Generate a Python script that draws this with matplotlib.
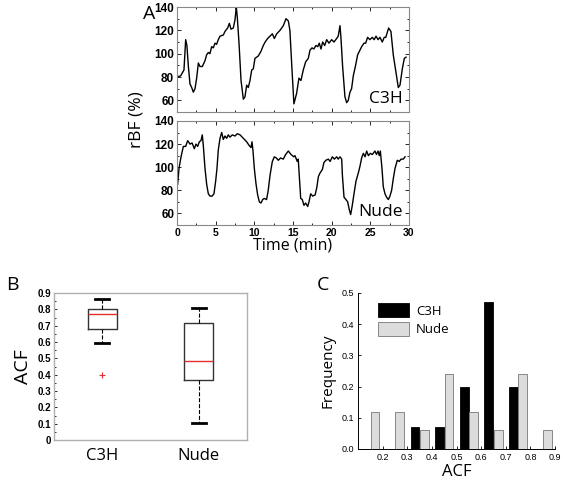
import matplotlib
matplotlib.use("Agg")
import matplotlib.pyplot as plt
from matplotlib.ticker import MultipleLocator

plt.rcParams['font.family'] = ['Liberation Sans', 'DejaVu Sans']

# -----------------------------------------------------------------------------
# Data
# -----------------------------------------------------------------------------
# Panel A, C3H rBF trace
c3h_t = [0.0, 0.47, 0.9, 1.12, 1.28, 1.47, 1.68, 1.9, 2.11, 2.33, 2.54, 2.76,
         2.97, 3.27, 3.62, 3.83, 4.05, 4.26, 4.48, 4.7, 4.91, 5.12, 5.34, 5.56,
         5.99, 6.2, 6.55, 6.77, 6.98, 7.28, 7.5, 7.67, 7.8, 8.02, 8.28, 8.58,
         8.79, 9.01, 9.22, 9.44, 9.66, 9.87, 10.08, 10.3, 10.51, 10.86, 11.16,
         11.4, 11.72, 12.02, 12.33, 12.59, 12.89, 13.32, 13.75, 14.1, 14.4,
         14.6, 14.85, 15.12, 15.47, 15.77, 16.03, 16.33, 16.64, 16.98, 17.2,
         17.46, 17.7, 17.97, 18.2, 18.4, 18.62, 18.84, 19.1, 19.36, 19.65, 20.0,
         20.3, 20.65, 20.85, 21.08, 21.2, 21.42, 21.72, 21.94, 22.15, 22.37,
         22.58, 22.8, 23.1, 23.36, 23.66, 23.88, 24.18, 24.4, 24.65, 24.95,
         25.26, 25.5, 25.74, 26.0, 26.25, 26.55, 26.8, 27.0, 27.37, 27.67,
         27.97, 28.32, 28.62, 28.84, 29.14, 29.4, 29.62]
c3h_rbf = [80, 81, 86, 112, 107, 89, 74, 71, 67, 70, 79, 92,
           89, 89, 94, 99, 101, 100, 106, 105, 109, 108, 112, 115,
           116, 119, 122, 126, 121, 122, 129, 140, 131, 109, 77, 61,
           63, 73, 71, 77, 86, 87, 96, 97, 98, 102, 107,
           110, 113, 115, 117, 113, 117, 120, 124, 130, 128,
           120, 89, 57, 66, 79, 77, 86, 93, 96, 103,
           105, 104, 107, 106, 109, 104, 110, 107, 112, 109, 112,
           110, 113, 115, 124, 114, 89, 63, 58, 60, 67,
           70, 81, 90, 99, 103, 106, 109, 109, 114, 112,
           114, 112, 115, 112, 114, 110, 114, 114, 122, 119,
           99, 84, 71, 73, 87, 96, 97]

# Panel A, Nude rBF trace
nude_t = [0.08, 0.26, 0.52, 0.82, 1.12, 1.38, 1.68, 1.95, 2.24, 2.45, 2.67,
          2.89, 3.1, 3.27, 3.4, 3.62, 3.84, 4.05, 4.27, 4.55, 4.78, 5.0, 5.17,
          5.34, 5.56, 5.78, 5.99, 6.2, 6.42, 6.63, 6.85, 7.15, 7.5, 7.8, 8.15,
          8.58, 9.01, 9.31, 9.57, 9.7, 9.83, 10.0, 10.21, 10.43, 10.65, 10.86,
          11.08, 11.29, 11.58, 11.8, 12.03, 12.33, 12.59, 12.85, 13.1, 13.4,
          13.75, 14.05, 14.4, 14.75, 15.1, 15.26, 15.55, 15.68, 15.82, 16.0,
          16.2, 16.42, 16.64, 16.9, 17.07, 17.29, 17.55, 17.86, 18.07, 18.29,
          18.5, 18.8, 19.0, 19.25, 19.57, 19.8, 20.09, 20.35, 20.65, 20.85,
          21.08, 21.3, 21.39, 21.6, 21.85, 22.07, 22.29, 22.46, 22.67, 22.89,
          23.15, 23.45, 23.67, 23.88, 24.1, 24.32, 24.53, 24.75, 25.0, 25.26,
          25.6, 25.8, 26.0, 26.16, 26.3, 26.51, 26.68, 26.9, 27.11, 27.33,
          27.54, 27.76, 27.97, 28.2, 28.49, 28.75, 28.97, 29.27, 29.5]
nude_rbf = [85, 99, 109, 118, 118, 123, 120, 121, 116, 120, 118,
            122, 123, 128, 119, 99, 85, 77, 75, 75, 77, 88, 99,
            115, 125, 130, 124, 127, 125, 128, 126, 128, 127, 129, 128,
            125, 122, 119, 117, 122, 114, 99, 86, 76, 70, 69,
            72, 73, 72, 80, 93, 105, 109, 108, 106, 108,
            107, 111, 114, 111, 109, 110, 105, 107, 92, 73,
            72, 67, 69, 66, 70, 77, 75, 76, 82, 92,
            95, 98, 104, 106, 107, 105, 109, 107, 109, 107,
            109, 107, 93, 74, 72, 70, 63, 59, 67, 77,
            88, 95, 101, 108, 112, 109, 114, 110, 112, 111,
            114, 111, 114, 110, 114, 99, 83, 77, 74, 72,
            75, 80, 90, 99, 106, 105, 107, 107, 109]

# Panel B, ACF box plot summary
groups = ["C3H", "Nude"]
acf_med = [0.77, 0.485]
acf_q1 = [0.68, 0.37]
acf_q3 = [0.80, 0.715]
acf_whislo = [0.595, 0.105]
acf_whishi = [0.865, 0.81]
acf_fliers = [[0.40], []]

# Panel C, ACF histogram
bin_centers = [0.15, 0.25, 0.35, 0.45, 0.55, 0.65, 0.75, 0.85]
freq_c3h = [0.0, 0.0, 0.07, 0.07, 0.20, 0.47, 0.20, 0.0]
freq_nude = [0.12, 0.12, 0.06, 0.24, 0.12, 0.06, 0.24, 0.06]

LABEL_FONT = ['Open Sans', 'DejaVu Sans']

# -----------------------------------------------------------------------------
fig = plt.figure(figsize=(5.63, 4.83), dpi=100)

axA1 = fig.add_axes([0.3144, 0.7681, 0.412, 0.2174])
axA2 = fig.add_axes([0.3144, 0.5342, 0.412, 0.2153])

for ax, t, y, name in [(axA1, c3h_t, c3h_rbf, "C3H"), (axA2, nude_t, nude_rbf, "Nude")]:
    ax.plot(t, y, color='black', linewidth=1.0)
    ax.set_xlim(0, 30)
    ax.set_ylim(50, 140)
    ax.set_xticks([0, 5, 10, 15, 20, 25, 30])
    ax.set_yticks([60, 80, 100, 120, 140])
    ax.xaxis.set_minor_locator(MultipleLocator(2.5))
    ax.yaxis.set_minor_locator(MultipleLocator(10))
    ax.tick_params(which='both', direction='in', top=True, right=True, length=3, width=0.6,
                   labelsize=8.5, pad=2)
    ax.tick_params(which='minor', length=1.5)
    for lab in ax.get_xticklabels() + ax.get_yticklabels():
        lab.set_fontweight('bold')
    for sp in ax.spines.values():
        sp.set_color('#888888')
        sp.set_linewidth(0.8)
    ax.text(0.975, 0.05, name, transform=ax.transAxes, ha='right', va='bottom',
            fontsize=12.5, family=LABEL_FONT)

axA2.tick_params(axis='x', labelsize=7.5)
for lab in axA2.get_xticklabels():
    lab.set_fontweight('bold')
axA1.tick_params(labelbottom=False)
fig.text(0.243, 0.752, "rBF (%)", rotation=90, ha='center', va='center',
         fontsize=12.5, family=LABEL_FONT)
fig.text(0.52, 0.492, "Time (min)", ha='center', va='center',
         fontsize=11.5, family=LABEL_FONT)
fig.text(0.265, 0.97, "A", ha='center', va='center', fontsize=14,
         family=LABEL_FONT)

# Panel B ----------------------------------------------------------------------
axB = fig.add_axes([0.0959, 0.089, 0.3428, 0.3043])
stats = []
for i, g in enumerate(groups):
    stats.append(dict(label=g, med=acf_med[i], q1=acf_q1[i], q3=acf_q3[i],
                      whislo=acf_whislo[i], whishi=acf_whishi[i], fliers=acf_fliers[i]))
axB.bxp(stats, positions=[1, 2], widths=0.3, capwidths=0.15,
        boxprops=dict(color='#333333', linewidth=1.0),
        medianprops=dict(color='#e03030', linewidth=1.0),
        whiskerprops=dict(color='black', linestyle='--', linewidth=0.8),
        capprops=dict(color='black', linewidth=2.0),
        flierprops=dict(marker='+', markeredgecolor='#e03030', markersize=4, markeredgewidth=0.8))
axB.set_xlim(0.5, 2.5)
axB.set_ylim(0, 0.9)
axB.set_yticks([0, 0.1, 0.2, 0.3, 0.4, 0.5, 0.6, 0.7, 0.8, 0.9])
axB.set_yticklabels(["0", "0.1", "0.2", "0.3", "0.4", "0.5", "0.6", "0.7", "0.8", "0.9"])
axB.yaxis.set_minor_locator(MultipleLocator(0.05))
axB.tick_params(axis='y', which='both', direction='in', length=2.5, width=0.6,
                labelsize=7, pad=2)
axB.tick_params(axis='y', which='minor', length=1.5)
axB.tick_params(axis='x', length=0, labelsize=12, pad=6)
for lab in axB.get_yticklabels():
    lab.set_fontweight('bold')
for lab in axB.get_xticklabels():
    lab.set_family(LABEL_FONT)
for sp in axB.spines.values():
    sp.set_color('#b0b0b0')
    sp.set_linewidth(1.0)
axB.set_ylabel("ACF", fontsize=14, family=LABEL_FONT, labelpad=4)
fig.text(0.022, 0.41, "B", ha='center', va='center', fontsize=14,
         family=LABEL_FONT)

# Panel C ----------------------------------------------------------------------
axC = fig.add_axes([0.636, 0.0704, 0.35, 0.323])
bw = 0.036
axC.bar([c - 0.019 for c in bin_centers], freq_c3h, width=bw, color='black',
        edgecolor='black', linewidth=0.6, label="C3H")
axC.bar([c + 0.019 for c in bin_centers], freq_nude, width=bw, color='#dcdcdc',
        edgecolor='#777777', linewidth=0.6, label="Nude")
axC.set_xlim(0.1, 0.9)
axC.set_ylim(0, 0.5)
axC.set_xticks([0.2, 0.3, 0.4, 0.5, 0.6, 0.7, 0.8, 0.9])
axC.set_yticks([0, 0.1, 0.2, 0.3, 0.4, 0.5])
axC.set_yticklabels(["0.0", "0.1", "0.2", "0.3", "0.4", "0.5"])
axC.tick_params(direction='in', length=2.5, width=0.6, labelsize=6.5, pad=3)
axC.spines['top'].set_visible(False)
axC.spines['right'].set_visible(False)
for sp in ('left', 'bottom'):
    axC.spines[sp].set_linewidth(0.7)
axC.set_xlabel("ACF", fontsize=12, family=LABEL_FONT, labelpad=1)
axC.set_ylabel("Frequency", fontsize=11, family=LABEL_FONT, labelpad=4)
axC.legend(loc='upper left', bbox_to_anchor=(0.04, 1.01), frameon=False,
           prop=dict(family=LABEL_FONT, size=9.5),
           handlelength=2.4, handleheight=1.2, labelspacing=0.35, handletextpad=0.5)
fig.text(0.573, 0.41, "C", ha='center', va='center', fontsize=14,
         family=LABEL_FONT)

fig.savefig("out.png", dpi=100)
